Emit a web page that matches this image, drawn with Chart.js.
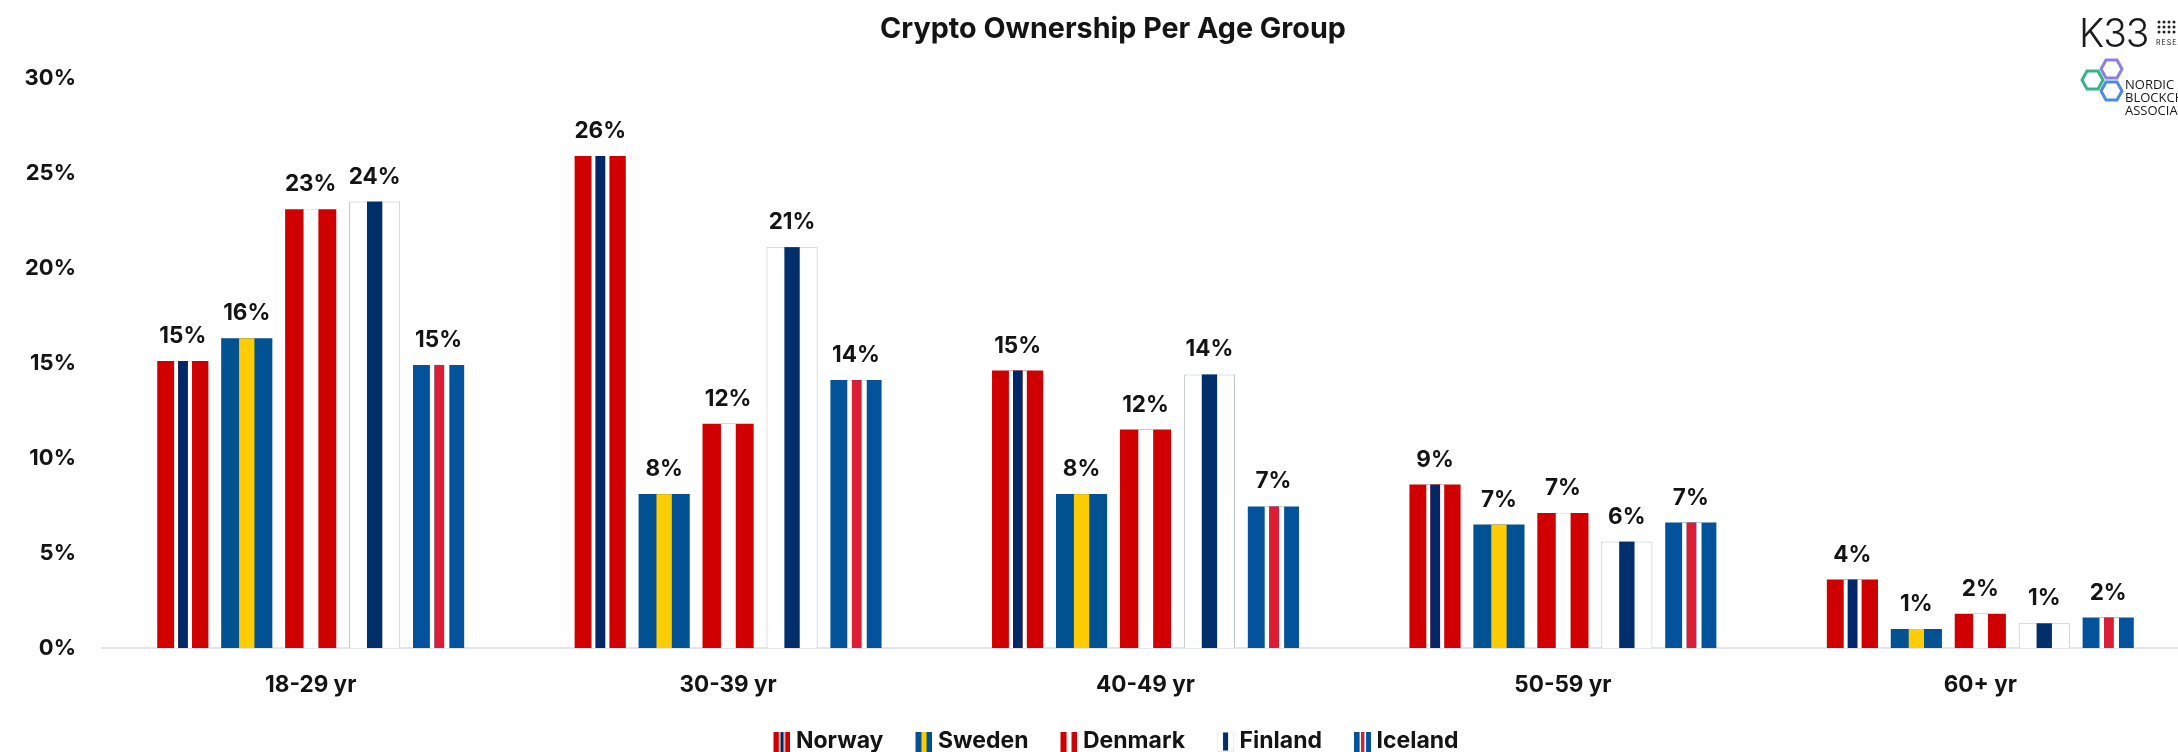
<!DOCTYPE html>
<html>
<head>
<meta charset="utf-8">
<script src="https://cdn.jsdelivr.net/npm/chart.js@4/dist/chart.umd.min.js"></script>
<style>
html,body{margin:0;padding:0;background:#fff;width:2178px;height:752px;overflow:hidden}
#wrap{position:relative;width:2178px;height:752px;overflow:hidden}
#c{position:absolute;left:0;top:0;width:2226px;height:752px}
.t{position:absolute;font-family:Inter,sans-serif;color:#1a1a1a;white-space:nowrap}
svg{position:absolute;left:2060px;top:0}
</style>
</head>
<body>
<div id="wrap">
<canvas id="c" width="2226" height="752"></canvas>
<div class="t" style="left:2079px;top:11px;font-size:39px;font-weight:300;letter-spacing:-1px;line-height:44px">K33</div>
<div class="t" style="left:2156px;top:39px;font-size:7px;letter-spacing:1px;line-height:8px">RESEARCH</div>
<svg width="118" height="110" viewBox="2060 0 118 110">
  <g fill="#222">
    <circle cx="2159" cy="22" r="1.5"/><circle cx="2164" cy="22" r="1.5"/><circle cx="2169" cy="22" r="1.5"/><circle cx="2174" cy="22" r="1.5"/>
    <circle cx="2159" cy="27" r="1.5"/><circle cx="2164" cy="27" r="1.5"/><circle cx="2169" cy="27" r="1.5"/><circle cx="2174" cy="27" r="1.5"/>
    <circle cx="2159" cy="32" r="1.5"/><circle cx="2164" cy="32" r="1.5"/><circle cx="2169" cy="32" r="1.5"/><circle cx="2174" cy="32" r="1.5"/>
  </g>
  <g fill="none" stroke-width="3">
    <polygon stroke="#33b586" points="2082,80 2087,71 2098,71 2103,80 2098,89 2087,89"/>
    <polygon stroke="#8b7fe6" points="2101,69 2106,60 2117,60 2122,69 2117,78 2106,78"/>
    <polygon stroke="#4d8ae6" points="2101,91 2106,82 2117,82 2122,91 2117,100 2106,100"/>
  </g>
</svg>
<div class="t" style="left:2125px;top:78px;font-size:13px;line-height:13px;font-family:'Open Sans',sans-serif">NORDIC<br>BLOCKCHAIN<br>ASSOCIATION</div>
</div>
<script>
const categories = ['18-29 yr', '30-39 yr', '40-49 yr', '50-59 yr', '60+ yr'];
const norway  = [15.1, 25.9, 14.6, 8.6, 3.6];
const sweden  = [16.3, 8.1, 8.1, 6.5, 1.0];
const denmark = [23.1, 11.8, 11.5, 7.1, 1.8];
const finland = [23.5, 21.1, 14.4, 5.6, 1.3];
const iceland = [14.9, 14.1, 7.45, 6.6, 1.6];
const yTicks = [0, 5, 10, 15, 20, 25, 30];

const RED = '#D00000', NAVY = '#002868', SWE = '#005293', YEL = '#FECC02',
      FIN = '#002F6C', ICE = '#02529C', ICR = '#DC1E35', WHITE = '#FFFFFF';

// stripe layout of each flag bar, as fractions of the bar width
const flagNorway  = [[0.33, 0.41, WHITE], [0.41, 0.60, NAVY], [0.60, 0.68, WHITE]];
const flagSweden  = [[0.35, 0.65, YEL]];
const flagDenmark = [[0.36, 0.65, WHITE]];
const flagFinland = [[0.35, 0.65, FIN]];
const flagIceland = [[0.33, 0.42, WHITE], [0.42, 0.61, ICR], [0.61, 0.71, WHITE]];

const FONT = 'Inter, sans-serif';
const TEXT = '#141414';

function ds(label, data, color, flag, border) {
  return { label, data, backgroundColor: color, flag,
           borderColor: border || color, borderWidth: border ? {top:1,left:1,right:1,bottom:0} : 0,
           borderSkipped: false,
           categoryPercentage: 0.766, barPercentage: 0.8 };
}

function swatch(color, flag, border) {
  // the flag sits at the right of a wider transparent canvas, so it hugs the legend text
  const c = document.createElement('canvas');
  c.width = 29; c.height = 20;
  const x = c.getContext('2d');
  x.translate(12, 0);
  x.fillStyle = color; x.fillRect(0, 0, 17, 20);
  flag.forEach(s => { x.fillStyle = s[2]; x.fillRect(s[0]*17, 0, (s[1]-s[0])*17, 20); });
  if (border) { x.strokeStyle = '#eceef1'; x.lineWidth = 1; x.strokeRect(0.5, 0.5, 16, 19); }
  return c;
}

const stripes = {
  id: 'stripes',
  afterDatasetDraw(chart, args) {
    const ctx = chart.ctx, meta = chart.getDatasetMeta(args.index), flag = chart.data.datasets[args.index].flag;
    ctx.save();
    meta.data.forEach(el => {
      const p = el.getProps(['x', 'y', 'base', 'width'], true);
      const left = p.x - p.width / 2;
      flag.forEach(s => {
        ctx.fillStyle = s[2];
        ctx.fillRect(left + s[0] * p.width, p.y, (s[1] - s[0]) * p.width, p.base - p.y);
      });
    });
    ctx.restore();
  }
};

const valueLabels = {
  id: 'valueLabels',
  afterDatasetsDraw(chart) {
    const ctx = chart.ctx;
    ctx.save();
    ctx.font = '700 22.5px ' + FONT;
    ctx.fillStyle = TEXT;
    ctx.textAlign = 'center';
    ctx.textBaseline = 'alphabetic';
    chart.data.datasets.forEach((d, i) => {
      chart.getDatasetMeta(i).data.forEach((el, j) => {
        ctx.fillText(Math.round(d.data[j]) + '%', el.x, el.y - 18);
      });
    });
    ctx.restore();
  }
};

new Chart(document.getElementById('c'), {
  type: 'bar',
  data: {
    labels: categories,
    datasets: [
      ds('Norway', norway, RED, flagNorway),
      ds('Sweden', sweden, SWE, flagSweden),
      ds('Denmark', denmark, RED, flagDenmark),
      ds('Finland', finland, WHITE, flagFinland, '#bcc2cc'),
      ds('Iceland', iceland, ICE, flagIceland)
    ]
  },
  plugins: [stripes, valueLabels],
  options: {
    responsive: false,
    animation: false,
    layout: { padding: { top: 0, right: 0, bottom: -11, left: 0 } },
    plugins: {
      tooltip: { enabled: false },
      title: {
        display: true,
        text: 'Crypto Ownership Per Age Group',
        color: TEXT,
        font: { family: FONT, size: 28.7, weight: '700', lineHeight: 1.2 },
        padding: { top: 12, bottom: 31.6 }
      },
      legend: {
        position: 'bottom',
        labels: {
          usePointStyle: true,
          pointStyleWidth: 17,
          padding: 26,
          color: TEXT,
          font: { family: FONT, size: 23, weight: '700' },
          generateLabels(chart) {
            return chart.data.datasets.map((d, i) => ({
              text: d.label,
              pointStyle: swatch(d.backgroundColor, d.flag, i === 3),
              fontColor: TEXT,
              lineWidth: 0,
              datasetIndex: i
            }));
          }
        }
      }
    },
    scales: {
      x: {
        grid: { display: false, drawTicks: false },
        border: { color: '#e3e6ec', width: 2 },
        ticks: { color: TEXT, font: { family: FONT, size: 22.5, weight: '700' }, padding: 24, maxRotation: 0 },
        afterFit(s) { s.height = 56; }
      },
      y: {
        min: 0, max: 30,
        afterBuildTicks(s) { s.ticks = yTicks.map(v => ({ value: v })); },
        afterFit(s) { s.width = 102; },
        grid: { display: false, drawTicks: false },
        border: { display: false },
        ticks: { color: TEXT, font: { family: FONT, size: 22, weight: '700' }, padding: 26,
                 callback: v => v + '%' }
      },
      spacer: {
        position: 'right',
        afterFit(s) { s.width = 37; },
        grid: { display: false, drawTicks: false },
        border: { display: false },
        ticks: { display: false }
      }
    }
  }
});
</script>
</body>
</html>
